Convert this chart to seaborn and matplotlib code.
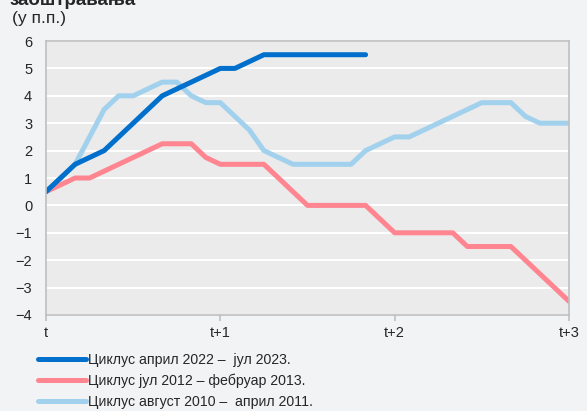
import numpy as np
import pandas as pd
import matplotlib.pyplot as plt
import seaborn as sns

# Подаци: кумулативно повећање референтне стопе (у п.п.), месечно
meseci_oznake = ['t', 't+1', 't+2', 't+3']
ciklus_2022 = [0.5, 1.0, 1.5, 1.75, 2.0, 2.5, 3.0, 3.5, 4.0, 4.25, 4.5, 4.75, 5.0,
               5.0, 5.25, 5.5, 5.5, 5.5, 5.5, 5.5, 5.5, 5.5, 5.5]
ciklus_2012 = [0.5, 0.75, 1.0, 1.0, 1.25, 1.5, 1.75, 2.0, 2.25, 2.25, 2.25, 1.75, 1.5,
               1.5, 1.5, 1.5, 1.0, 0.5, 0.0, 0.0, 0.0, 0.0, 0.0, -0.5, -1.0,
               -1.0, -1.0, -1.0, -1.0, -1.5, -1.5, -1.5, -1.5, -2.0, -2.5, -3.0, -3.5]
ciklus_2010 = [0.5, 1.0, 1.5, 2.5, 3.5, 4.0, 4.0, 4.25, 4.5, 4.5, 4.0, 3.75, 3.75,
               3.25, 2.75, 2.0, 1.75, 1.5, 1.5, 1.5, 1.5, 1.5, 2.0, 2.25, 2.5,
               2.5, 2.75, 3.0, 3.25, 3.5, 3.75, 3.75, 3.75, 3.25, 3.0, 3.0, 3.0]

nazivi = ['Циклус април 2022 –  јул 2023.',
          'Циклус јул 2012 – фебруар 2013.',
          'Циклус август 2010 –  април 2011.']
boje = ['#0070CC', '#FF8591', '#A2D1EE']

sns.set_theme(style="white")
plt.rcParams['font.family'] = ['Liberation Sans', 'DejaVu Sans']

fig = plt.figure(figsize=(5.87, 4.11), dpi=100, facecolor='#F2F3F5')
ax = fig.add_axes([0.0784, 0.2336, 0.8909, 0.6666])
ax.set_facecolor('#EBEBEB')

redosled = [(ciklus_2012, 1), (ciklus_2010, 2), (ciklus_2022, 0)]
for serija, i in redosled:
    df = pd.DataFrame({'mesec': np.arange(len(serija)), 'vrednost': serija})
    sns.lineplot(data=df, x='mesec', y='vrednost', ax=ax, color=boje[i],
                 linewidth=3.6, solid_capstyle='round', label=nazivi[i])

ax.set_xlim(0, 36)
ax.set_ylim(-4, 6)
ax.set_yticks(range(-4, 7))
ax.set_xticks([0, 12, 24, 36])
ax.set_xticklabels(meseci_oznake)
ax.set_xlabel('')
ax.set_ylabel('')
ax.yaxis.grid(True, color='white', linewidth=1.5)
ax.set_axisbelow(True)
for s in ax.spines.values():
    s.set_color('#BFBFBF')
    s.set_linewidth(1.2)
ax.tick_params(axis='x', bottom=True, length=4, color='#BFBFBF', width=1.2,
               pad=4, labelsize=10.5)
ax.tick_params(axis='y', left=False, length=0, pad=10, labelsize=10.5)

# легенда испод графикона, редослед као у оригиналу
hendlovi, oznake = ax.get_legend_handles_labels()
mapa = dict(zip(oznake, hendlovi))
ax.legend([mapa[n] for n in nazivi], nazivi, loc='upper left',
          bbox_to_anchor=(-0.026, -0.118), frameon=False, fontsize=10.2,
          handlelength=3.35, handletextpad=0.2, labelspacing=0.48,
          borderaxespad=0)

# наслов је у оригиналу одсечен на горњој ивици
fig.text(0.017, 0.988, 'заоштравања', fontsize=13.5, fontweight='bold', va='baseline')
fig.text(0.020, 0.954, '(у п.п.)', fontsize=12.5, va='center')

plt.savefig('out.png', dpi=100, facecolor=fig.get_facecolor())
